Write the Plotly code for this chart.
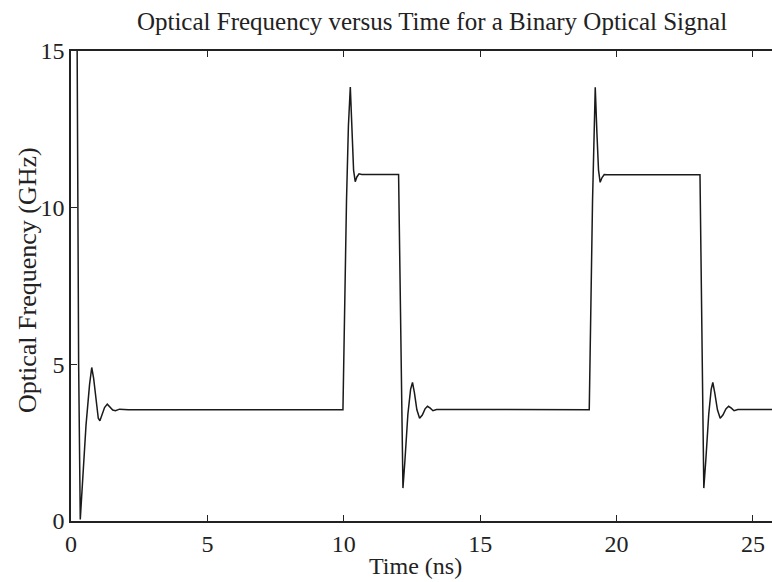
import plotly.graph_objects as go

# Time (ns) and optical frequency (GHz)
time_ns = [0.22, 0.28, 0.34, 0.55, 0.68, 0.76, 0.83, 0.92, 1.00, 1.06, 1.13, 1.23, 1.33, 1.43,
           1.53, 1.63, 1.78, 2.10,
           9.97, 10.10, 10.17, 10.24, 10.30, 10.36, 10.42, 10.48, 10.56, 10.66,
           12.01, 12.08, 12.17, 12.24, 12.35, 12.45, 12.52, 12.59, 12.68, 12.78, 12.88, 12.98,
           13.07, 13.17, 13.27, 13.40,
           19.00, 19.12, 19.18, 19.22, 19.28, 19.34, 19.40, 19.47, 19.55, 19.65,
           23.06, 23.13, 23.20, 23.27, 23.38, 23.47, 23.53, 23.60, 23.70, 23.80, 23.90, 24.01,
           24.11, 24.21, 24.31, 24.45, 25.70]
freq_ghz = [16.0, 5.0, 0.05, 3.05, 4.35, 4.90, 4.55, 3.75, 3.28, 3.20, 3.35, 3.62, 3.73, 3.64,
            3.54, 3.52, 3.57, 3.55,
            3.55, 10.2, 12.6, 13.85, 12.4, 11.2, 10.83, 10.98, 11.08, 11.06,
            11.06, 6.0, 1.05, 1.9, 3.40, 4.20, 4.42, 4.10, 3.55, 3.28, 3.38, 3.58,
            3.66, 3.60, 3.52, 3.56,
            3.55, 10.2, 12.6, 13.84, 12.4, 11.2, 10.81, 10.96, 11.06, 11.05,
            11.05, 6.0, 1.05, 1.9, 3.40, 4.20, 4.42, 4.10, 3.55, 3.28, 3.38, 3.58,
            3.66, 3.60, 3.52, 3.56, 3.56]

x_ticks = [0, 5, 10, 15, 20, 25]
y_ticks = [0, 5, 10, 15]

FONT = "Liberation Serif"
INK = "#222"

fig = go.Figure()
fig.add_trace(go.Scatter(x=time_ns, y=freq_ghz, mode="lines",
                         line=dict(color="#1a1a1a", width=1.5), showlegend=False))

fig.update_layout(
    width=772, height=582,
    margin=dict(l=71, r=0, t=51, b=61),
    paper_bgcolor="white", plot_bgcolor="white",
    font=dict(family=FONT, size=24, color=INK),
    title=dict(text="Optical Frequency versus Time for a Binary Optical Signal",
               x=432 / 772, xanchor="center", y=1 - 21 / 582, yanchor="middle",
               font=dict(family=FONT, size=25, color=INK)),
    xaxis=dict(range=[0, 25.7], tickvals=x_ticks, ticks="inside", ticklen=6,
               tickwidth=1.2, tickcolor=INK, showline=True, linecolor=INK,
               linewidth=1.5, mirror="ticks", showgrid=False, zeroline=False,
               tickfont=dict(family=FONT, size=24, color=INK)),
    yaxis=dict(range=[0, 15], tickvals=y_ticks, ticks="inside", ticklen=6,
               tickwidth=1.2, tickcolor=INK, showline=True, linecolor=INK,
               linewidth=1.5, mirror=False, showgrid=False, zeroline=False,
               tickfont=dict(family=FONT, size=24, color=INK)),
    annotations=[
        dict(text="Time (ns)", xref="paper", yref="paper", x=(415 - 71) / 701,
             y=-(566 - 521) / 470, xanchor="center", yanchor="middle",
             showarrow=False, font=dict(family=FONT, size=24, color=INK)),
        dict(text="Optical Frequency (GHz)", xref="paper", yref="paper",
             x=-(71 - 27) / 701, y=(521 - 280) / 470, xanchor="center", yanchor="middle",
             textangle=-90, showarrow=False,
             font=dict(family=FONT, size=26, color=INK)),
    ],
)

fig.write_html("out.html")
